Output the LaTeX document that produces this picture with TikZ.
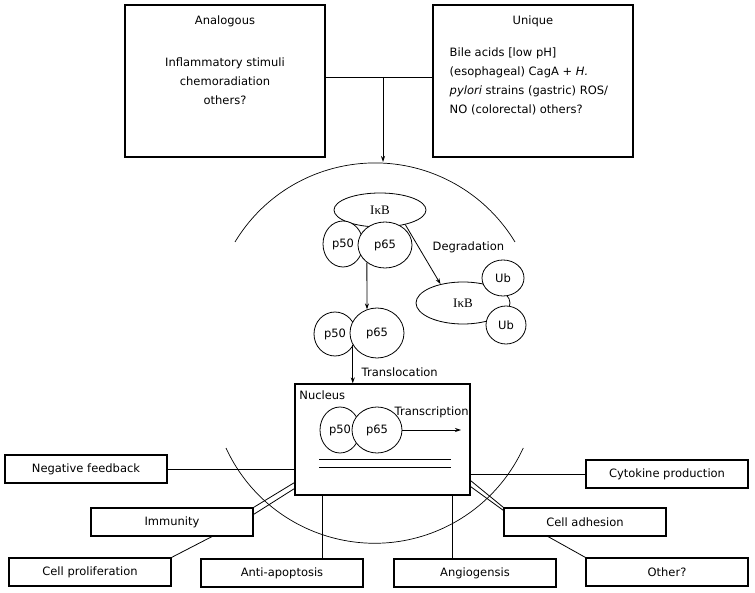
\documentclass[tikz,border=0pt]{standalone}
\usepackage{fontspec}
\setmainfont{DejaVu Sans}
\newfontfamily\ikbfont{Liberation Serif}
\usetikzlibrary{shapes.geometric,arrows.meta,calc}
\newcommand{\ikb}{{\ikbfont\fontsize{13}{15}\selectfont IκB}}
\begin{document}
\begin{tikzpicture}[x=1pt,y=-1pt,line width=0.8pt,
  font=\fontsize{11.5}{13}\selectfont,
  >={Stealth[length=6pt,width=4pt]},
  box/.style={draw,line width=1.1pt,minimum width=162,minimum height=28,inner sep=0pt},
  srcbox/.style={draw,line width=1.1pt,minimum width=200,minimum height=152},
  prot/.style={ellipse,draw,fill=white,inner sep=0pt},
  lines/.style={font=\fontsize{11.5}{19}\selectfont}]
  \useasboundingbox (0,0) rectangle (755,593);

  \node[srcbox] (analog) at (225,81) {};
  \node[srcbox] (unique) at (533,81) {};
  \node at (225,21) {Analogous};
  \node[lines,align=center] at (225,81) {Inflammatory stimuli\\chemoradiation\\others?};
  \node at (533,21) {Unique};
  \node[lines,align=left,anchor=west] at (446,81.5) {Bile acids [low pH]\\(esophageal) CagA + \emph{H.}\\\emph{pylori} strains (gastric) ROS/\\NO (colorectal) others?};
  \coordinate (junc) at (383,77);
  \coordinate (memtop) at (383,162);
  \draw ([yshift=4]analog.east) -- ([yshift=4]unique.west);
  \draw[->] (junc) -- (memtop);

  \draw[line width=0.7pt] (235,242) arc[start angle=211.1,end angle=328.9,radius=163.5];
  \draw[line width=0.7pt] (226,448) arc[start angle=155.3,end angle=24.7,radius=163.6];

  \node[prot,minimum width=92,minimum height=34] (ikb) at (380,210) {\ikb};
  \node[prot,minimum width=40,minimum height=46] (p50a) at (343,244) {p50};
  \node[prot,minimum width=54,minimum height=46] (p65a) at (385,245) {p65};
  \node[prot,minimum width=94,minimum height=42] (ikbb) at (463,303) {\ikb};
  \node[prot,minimum width=42,minimum height=36] (uba) at (503,278) {Ub};
  \node[prot,minimum width=40,minimum height=38] (ubb) at (506,325) {Ub};
  \draw[->] (ikb.330) -- (ikbb.140);
  \node[anchor=west] at (429,247) {Degradation};

  \node[prot,minimum width=42,minimum height=44] (p50b) at (335,334) {p50};
  \node[prot,minimum width=54,minimum height=50] (p65b) at (377,333) {p65};
  \draw[->] (p65a.224) -- (p65b.113);

  \node[draw,line width=1.1pt,minimum width=175,minimum height=111] (nucleus) at (382.5,439.5) {};
  \node[anchor=west,inner sep=0pt] at (299,395) {Nucleus};
  \draw[->] (p65b.206) -- (p65b.206 |- nucleus.north);
  \node[anchor=west] at (358,372) {Translocation};
  \node[prot,minimum width=40,minimum height=46] (p50c) at (340,430) {p50};
  \node[prot,minimum width=50,minimum height=46] (p65c) at (377,430) {p65};
  \coordinate (txend) at (461,430);
  \draw[->] (p65c.east) -- (txend);
  \node[anchor=west] at (391,412) {Transcription};
  \draw (319,459) -- (451,459);
  \draw (319,467) -- (451,467);

  \node[box] (negfb) at (86,469) {Negative feedback};
  \node[box] (immun) at (172,522) {Immunity};
  \node[box] (prolif) at (90,572) {Cell proliferation};
  \node[box] (antiap) at (282,573) {Anti-apoptosis};
  \node[box] (angio) at (475,573) {Angiogensis};
  \node[box] (cytok) at (667,474) {Cytokine production};
  \node[box] (adhes) at (585,522) {Cell adhesion};
  \node[box] (other) at (667,572) {Other?};

  \draw (negfb.east) -- (negfb.east -| nucleus.west);
  \draw (nucleus.east |- cytok.west) -- (cytok.west);
  \draw (immun.north east) -- ([yshift=13]nucleus.south west);
  \draw ([yshift=-7]immun.north east) -- ([yshift=7]nucleus.south west);
  \draw (prolif.north east) -- ([xshift=40]immun.south);
  \draw ([yshift=15]nucleus.south east) -- (adhes.north west);
  \draw ([yshift=9]nucleus.south east) -- ([yshift=-3]adhes.north west);
  \draw ([xshift=-37]adhes.south) -- (other.north west);
  \coordinate (apx) at ($(nucleus.south west)!0.16!(nucleus.south east)$);
  \coordinate (agx) at ($(nucleus.south west)!0.897!(nucleus.south east)$);
  \draw (apx) -- (apx |- antiap.north);
  \draw (agx) -- (agx |- angio.north);
\end{tikzpicture}
\end{document}
